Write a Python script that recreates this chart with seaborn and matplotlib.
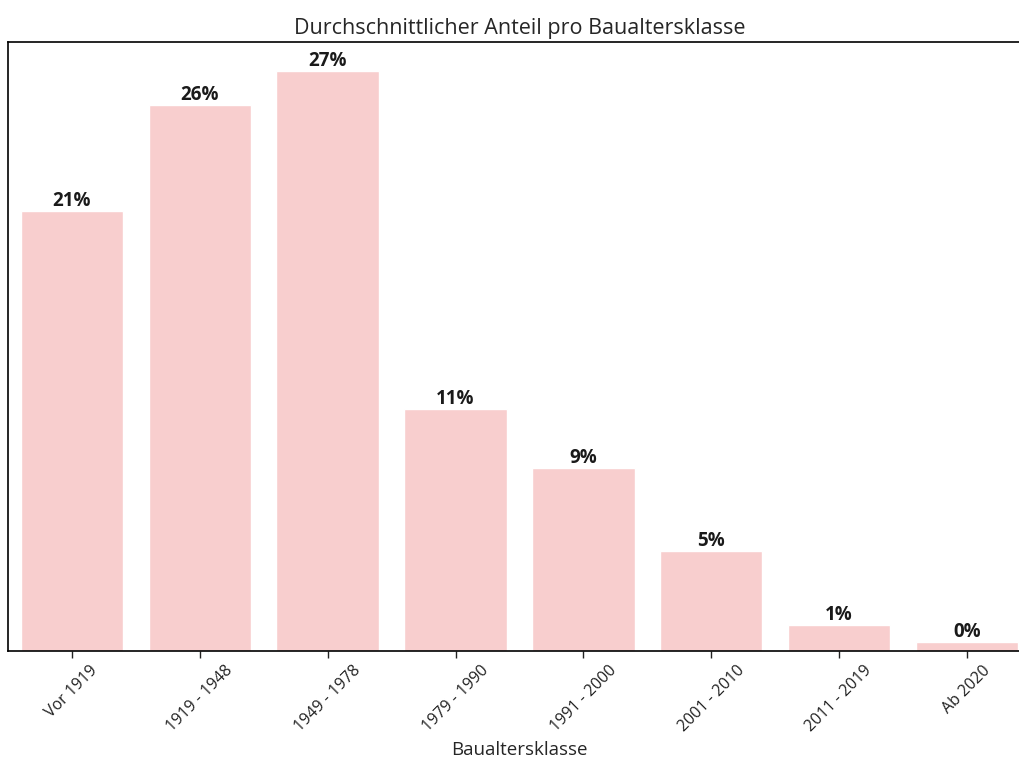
import matplotlib
matplotlib.use("Agg")
import matplotlib.pyplot as plt
import seaborn as sns
import pandas as pd

# Daten
klassen = ["Vor 1919", "1919 - 1948", "1949 - 1978", "1979 - 1990",
           "1991 - 2000", "2001 - 2010", "2011 - 2019", "Ab 2020"]
anteile = [20.7, 25.7, 27.3, 11.4, 8.6, 4.7, 1.2, 0.4]

df = pd.DataFrame({"Baualtersklasse": klassen, "Anteil": anteile})

sns.set_style("white")
plt.rcParams['font.family'] = ['Open Sans', 'DejaVu Sans']

fig = plt.figure(figsize=(10.2, 7.62), dpi=100)
ax = fig.add_axes([0.0078, 0.1457, 1.0029, 0.7992])

sns.barplot(data=df, x="Baualtersklasse", y="Anteil", color="#F8CECE",
            saturation=1, width=0.8, ax=ax)

for i, v in enumerate(anteile):
    ax.text(i, v, f"{v:.0f}%", ha="center", va="bottom",
            fontsize=13.5, fontweight="bold", color="#1a1a1a")

ax.set_title("Durchschnittlicher Anteil pro Baualtersklasse", fontsize=15.5, pad=6)
ax.set_xlabel("Baualtersklasse", fontsize=13.5)
ax.set_ylabel("")
ax.set_yticks([])
ax.tick_params(axis="x", bottom=True, length=5, width=1, labelsize=11.5, colors="#222222")
plt.setp(ax.get_xticklabels(), rotation=45)
ax.spines["right"].set_visible(False)
for s in ax.spines.values():
    s.set_color("black")
    s.set_linewidth(1.2)

fig.savefig("out.png", dpi=100)
